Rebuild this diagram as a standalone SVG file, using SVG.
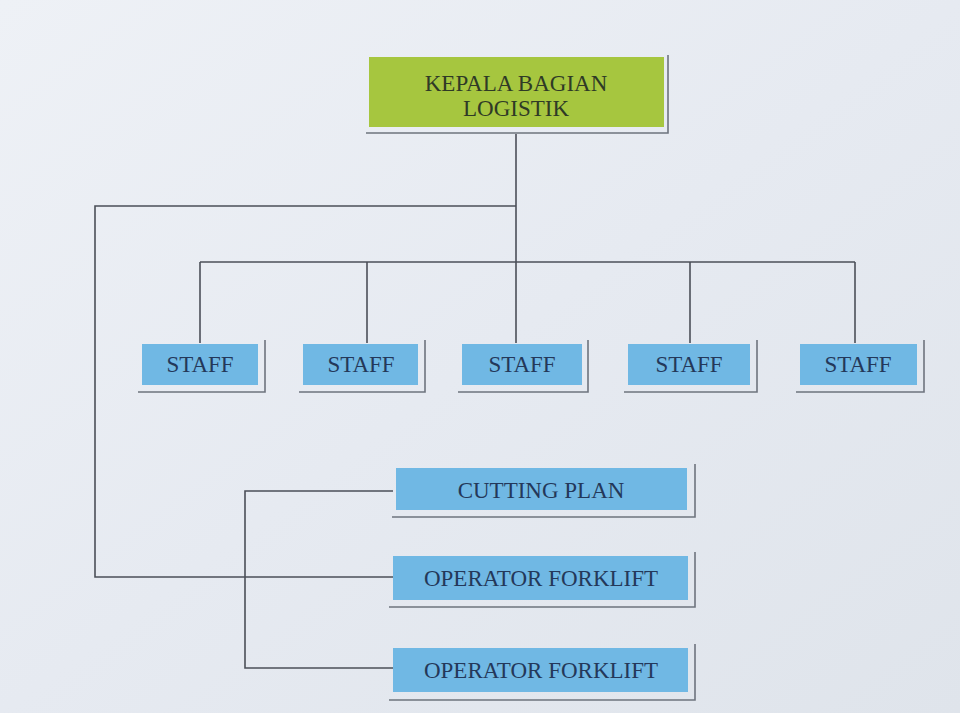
<svg xmlns="http://www.w3.org/2000/svg" width="960" height="713" viewBox="0 0 960 713">
  <defs>
    <linearGradient id="bg" x1="0" y1="0" x2="1" y2="1">
      <stop offset="0" stop-color="#eef1f6"/>
      <stop offset="0.5" stop-color="#e6eaf1"/>
      <stop offset="1" stop-color="#dfe4eb"/>
    </linearGradient>
  </defs>
  <style>
    .lead { fill: #a6c63f; }
    .box { fill: #70b8e4; }
    .shadow { fill: none; stroke: #6e747e; stroke-width: 1.6; }
    .conn { fill: none; stroke: #4b4f58; stroke-width: 1.6; }
    .t { font-family: "Liberation Serif", "Times New Roman", serif; font-size: 23px; text-anchor: middle; }
    .tb { fill: #24385a; }
    .tg { fill: #2f3a26; }
  </style>
  <rect x="0" y="0" width="960" height="713" fill="url(#bg)"/>

  <g id="connectors">
    <path class="conn" d="M516 134 V343"/>
    <path class="conn" d="M516 206 H95 V577 H393"/>
    <path class="conn" d="M200 262 H855"/>
    <path class="conn" d="M200 262 V343"/>
    <path class="conn" d="M367 262 V343"/>
    <path class="conn" d="M690 262 V343"/>
    <path class="conn" d="M855 262 V343"/>
    <path class="conn" d="M393 491 H245 V668 H393"/>
  </g>

  <g id="kepala">
    <rect class="lead" x="369" y="57" width="295" height="70"/>
    <path class="shadow" d="M366 133 H668 V55"/>
    <text class="t tg" x="516" y="91">KEPALA BAGIAN</text>
    <text class="t tg" x="516" y="116">LOGISTIK</text>
  </g>

  <g id="staff1">
    <rect class="box" x="142" y="344" width="116" height="41"/>
    <path class="shadow" d="M138 392 H265 V340"/>
    <text class="t tb" x="200" y="372">STAFF</text>
  </g>
  <g id="staff2">
    <rect class="box" x="303" y="344" width="115" height="41"/>
    <path class="shadow" d="M299 392 H425 V340"/>
    <text class="t tb" x="361" y="372">STAFF</text>
  </g>
  <g id="staff3">
    <rect class="box" x="462" y="344" width="120" height="41"/>
    <path class="shadow" d="M458 392 H588 V340"/>
    <text class="t tb" x="522" y="372">STAFF</text>
  </g>
  <g id="staff4">
    <rect class="box" x="628" y="344" width="122" height="41"/>
    <path class="shadow" d="M624 392 H757 V340"/>
    <text class="t tb" x="689" y="372">STAFF</text>
  </g>
  <g id="staff5">
    <rect class="box" x="800" y="344" width="117" height="41"/>
    <path class="shadow" d="M796 392 H924 V340"/>
    <text class="t tb" x="858" y="372">STAFF</text>
  </g>

  <g id="cutting-plan">
    <rect class="box" x="396" y="468" width="291" height="42"/>
    <path class="shadow" d="M392 517 H695 V464"/>
    <text class="t tb" x="541" y="498">CUTTING PLAN</text>
  </g>
  <g id="operator-forklift-1">
    <rect class="box" x="393" y="556" width="295" height="44"/>
    <path class="shadow" d="M389 607 H695 V552"/>
    <text class="t tb" x="541" y="586">OPERATOR FORKLIFT</text>
  </g>
  <g id="operator-forklift-2">
    <rect class="box" x="393" y="648" width="295" height="44"/>
    <path class="shadow" d="M389 700 H695 V644"/>
    <text class="t tb" x="541" y="678">OPERATOR FORKLIFT</text>
  </g>
</svg>
